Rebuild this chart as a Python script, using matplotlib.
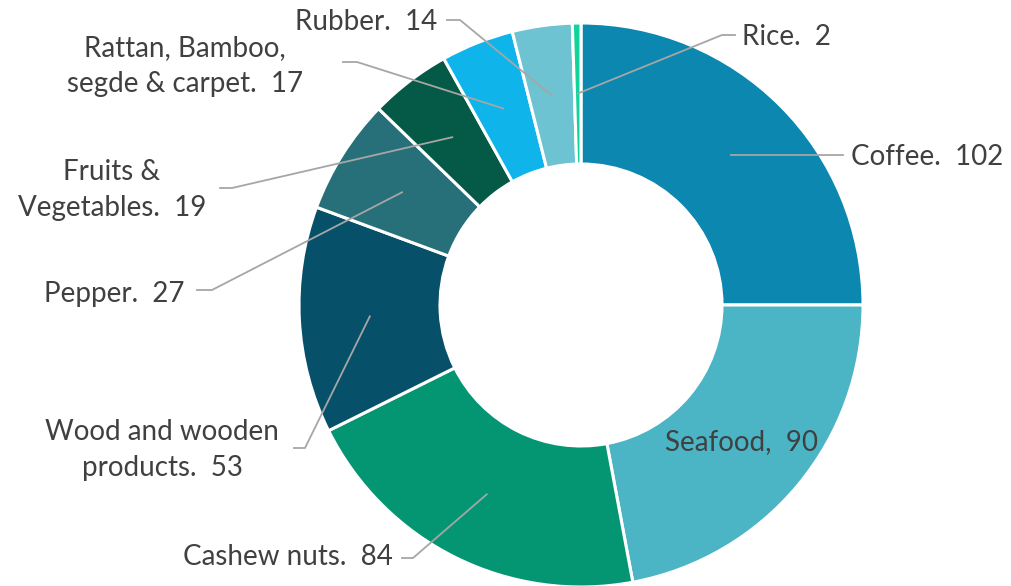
import matplotlib.pyplot as plt
import numpy as np

# export values (donut, clockwise from 12 o'clock)
names = ['Coffee', 'Seafood', 'Cashew nuts', 'Wood and wooden\nproducts',
         'Pepper', 'Fruits &\nVegetables', 'Rattan, Bamboo,\nsegde & carpet',
         'Rubber', 'Rice']
values = [102, 90, 84, 53, 27, 19, 17, 14, 2]
colors = ['#0B87B0', '#4BB4C5', '#049673', '#07506A', '#287079',
          '#045A47', '#0FB5EA', '#6DC3D1', '#12D39C']

W, H = 1012, 586
cx, cy, R = 581, 305, 282

fig = plt.figure(figsize=(W / 100, H / 100), dpi=100)
ax = fig.add_axes([0, 0, 1, 1])

wedges, _ = ax.pie(values, startangle=90, counterclock=False, radius=R,
                   center=(cx, H - cy), colors=colors,
                   wedgeprops=dict(width=141, edgecolor='white', linewidth=2.2))
ax.set_xlim(0, W)
ax.set_ylim(0, H)
ax.set_aspect('equal')
ax.axis('off')

# label layout: text x, text y, alignment, elbow (x, y), line end x  (pixels)
layout = [
    (851, 157, 'left', (830, 156), 843),
    (665, 442, 'left', None, None),
    (393, 557, 'right', (413, 558), 402),
    (162, 450, 'center', (305, 448), 294),
    (185, 294, 'right', (212, 290), 197),
    (112, 190, 'center', (232, 188), 220),
    (185, 66, 'center', (357, 62), 343),
    (437, 22, 'right', (460, 20), 447),
    (742, 37, 'left', (722, 35), 735),
]

txt_kw = dict(fontsize=20, color='#404040', family='Lato', va='center',
              linespacing=1.45, multialignment='center')
for w, name, v, (tx, ty, ha, elbow, endx) in zip(wedges, names, values, layout):
    sep = ',' if name == 'Seafood' else '.'
    ax.text(tx, H - ty, f'{name}{sep}  {v}', ha=ha, **txt_kw)
    if elbow is None:
        continue
    mid = np.deg2rad((w.theta1 + w.theta2) / 2)
    ax_, ay_ = cx + 0.75 * R * np.cos(mid), (H - cy) + 0.75 * R * np.sin(mid)
    ex, ey = elbow
    if abs(ay_ - (H - ey)) < 4:
        ax.plot([ax_, endx], [ay_, ay_], color='#A6A6A6', lw=1.3)
    else:
        ax.plot([ax_, ex, endx], [ay_, H - ey, H - ey], color='#A6A6A6', lw=1.3)

fig.savefig('out.png', dpi=100)
